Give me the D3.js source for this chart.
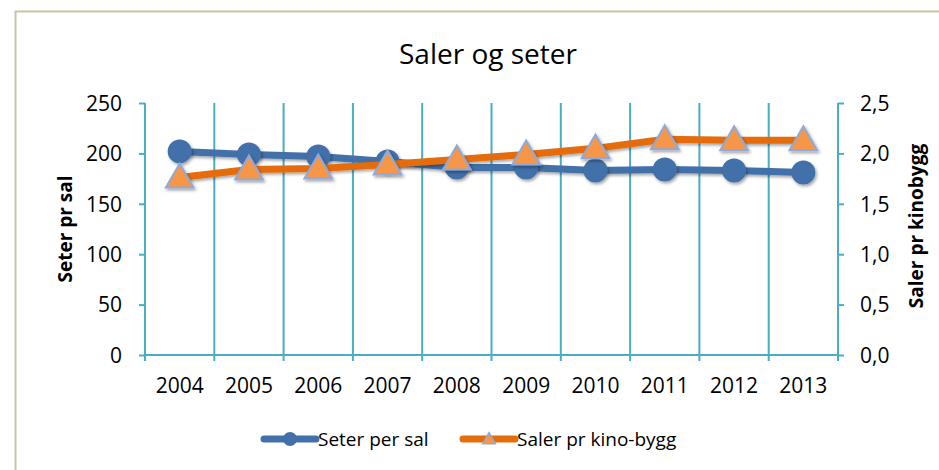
<!DOCTYPE html>
<html>
<head>
<meta charset="utf-8">
<script src="https://cdn.jsdelivr.net/npm/d3@7"></script>
<style>
  body { margin: 0; background: #fff; }
  svg text { font-family: "Open Sans", "Noto Sans", sans-serif; fill: #000; }
</style>
</head>
<body>
<div class="chart"></div>
<script>
const years = ['2004','2005','2006','2007','2008','2009','2010','2011','2012','2013']
const seterPerSal = [202, 199, 197, 192, 186, 186, 183, 184, 183, 181]
const salerPrBygg = [1.76, 1.84, 1.85, 1.89, 1.94, 1.99, 2.05, 2.14, 2.13, 2.13]
const leftTicks = [0, 50, 100, 150, 200, 250]
const rightTicks = [0, 0.5, 1, 1.5, 2, 2.5]

var width = 939,
    height = 470,
    grid = '#4BACC6',
    blue = '#4270A9',
    orange = '#E46C0A';

var svg = d3.select('.chart')
.append('svg')
.attr('width', width)
.attr('height', height)

// chart frame
svg.append('rect')
.attr('x', 15.5).attr('y', 11.5)
.attr('width', 940).attr('height', 480)
.attr('fill', 'none')
.attr('stroke', '#CBC3A3')
.attr('stroke-width', 2)

var defs = svg.append('defs')
var f = defs.append('filter').attr('id', 'shadow').attr('x', '-50%').attr('y', '-50%').attr('width', '200%').attr('height', '200%')
f.append('feDropShadow').attr('dx', 1.5).attr('dy', 2).attr('stdDeviation', 1.5).attr('flood-opacity', 0.35)

const x = d3.scaleBand()
.domain(years)
.range([145, 838])

const yL = d3.scaleLinear().domain([0, 250]).range([355, 103])
const yR = d3.scaleLinear().domain([0, 2.5]).range([355, 103])

// vertical gridlines at category boundaries
svg.append('g')
.selectAll('line')
.data(years.slice(1))
.enter()
.append('line')
.attr('x1', d => x(d)).attr('x2', d => x(d))
.attr('y1', yL(250)).attr('y2', yL(0) + 6)
.attr('stroke', grid).attr('stroke-width', 2)

// axes
svg.append('g')
.attr('transform', 'translate(145,0)')
.call(d3.axisLeft(yL).tickValues(leftTicks).tickSize(6).tickPadding(17))
.call(g => g.selectAll('.domain').remove())
.call(g => g.selectAll('line').attr('stroke', grid).attr('stroke-width', 2))
.call(g => g.selectAll('text').attr('font-size', 21).attr('dy', '0.35em'))

svg.append('line')
.attr('x1', 145).attr('x2', 145).attr('y1', yL(250)).attr('y2', yL(0) + 6)
.attr('stroke', grid).attr('stroke-width', 2)

svg.append('g')
.attr('transform', 'translate(838,0)')
.call(d3.axisRight(yR).tickValues(rightTicks).tickSize(6).tickPadding(16)
  .tickFormat(d => d3.format('.1f')(d).replace('.', ',')))
.call(g => g.selectAll('.domain').remove())
.call(g => g.selectAll('line').attr('stroke', grid).attr('stroke-width', 2))
.call(g => g.selectAll('text').attr('font-size', 21).attr('dy', '0.35em'))

svg.append('line')
.attr('x1', 838).attr('x2', 838).attr('y1', yL(250)).attr('y2', yL(0) + 6)
.attr('stroke', grid).attr('stroke-width', 2)

svg.append('line')
.attr('x1', 145).attr('x2', 838).attr('y1', yL(0)).attr('y2', yL(0))
.attr('stroke', grid).attr('stroke-width', 2)

svg.append('g')
.selectAll('text')
.data(years)
.enter()
.append('text')
.attr('x', d => x(d) + x.bandwidth() / 2)
.attr('y', 393)
.attr('text-anchor', 'middle')
.attr('font-size', 21)
.text(d => d)

// titles
svg.append('text')
.attr('x', 488).attr('y', 64)
.attr('text-anchor', 'middle')
.attr('font-size', 28)
.text('Saler og seter')

svg.append('text')
.attr('transform', 'translate(72,229) rotate(-90)')
.attr('text-anchor', 'middle')
.attr('font-size', 19).attr('font-weight', 'bold')
.text('Seter pr sal')

svg.append('text')
.attr('transform', 'translate(923,226) rotate(-90)')
.attr('text-anchor', 'middle')
.attr('font-size', 19).attr('font-weight', 'bold')
.text('Saler pr kinobygg')

const cx = (d, i) => x(years[i]) + x.bandwidth() / 2

// lines
svg.append('path')
.datum(seterPerSal)
.attr('d', d3.line().x(cx).y(d => yL(d)))
.attr('fill', 'none').attr('stroke', blue).attr('stroke-width', 7)
.attr('stroke-linejoin', 'round')
.attr('filter', 'url(#shadow)')

svg.append('g')
.selectAll('circle')
.data(seterPerSal)
.enter()
.append('circle')
.attr('cx', cx).attr('cy', d => yL(d))
.attr('r', 12)
.attr('fill', blue)
.attr('filter', 'url(#shadow)')

svg.append('path')
.datum(salerPrBygg)
.attr('d', d3.line().x(cx).y(d => yR(d)))
.attr('fill', 'none').attr('stroke', orange).attr('stroke-width', 7)
.attr('stroke-linejoin', 'round')
.attr('filter', 'url(#shadow)')

const tri = d3.symbol().type(d3.symbolTriangle).size(330)

svg.append('g')
.selectAll('path')
.data(salerPrBygg)
.enter()
.append('path')
.attr('d', tri)
.attr('transform', (d, i) => 'translate(' + cx(d, i) + ',' + (yR(d) + 2) + ')')
.attr('fill', '#F79646')
.attr('stroke', '#8EA9DB').attr('stroke-width', 2)
.attr('filter', 'url(#shadow)')

// legend
const legend = [
  {name: 'Seter per sal', color: blue, x0: 264, mark: 'circle'},
  {name: 'Saler pr kino-bygg', color: orange, x0: 463, mark: 'tri'}
]

const lg = svg.append('g')
.selectAll('g')
.data(legend)
.enter()
.append('g')
.attr('transform', d => 'translate(' + d.x0 + ',439)')

lg.append('line')
.attr('x1', 0).attr('x2', 52)
.attr('stroke', d => d.color).attr('stroke-width', 7).attr('stroke-linecap', 'round')

lg.filter(d => d.mark == 'circle').append('circle')
.attr('cx', 26).attr('r', 7).attr('fill', blue)

lg.filter(d => d.mark == 'tri').append('path')
.attr('d', d3.symbol().type(d3.symbolTriangle).size(70))
.attr('transform', 'translate(26,1)')
.attr('fill', '#F79646').attr('stroke', '#8EA9DB').attr('stroke-width', 1.5)

lg.append('text')
.attr('x', 54).attr('dy', '0.35em')
.attr('font-size', 19)
.text(d => d.name)
</script>
</body>
</html>
